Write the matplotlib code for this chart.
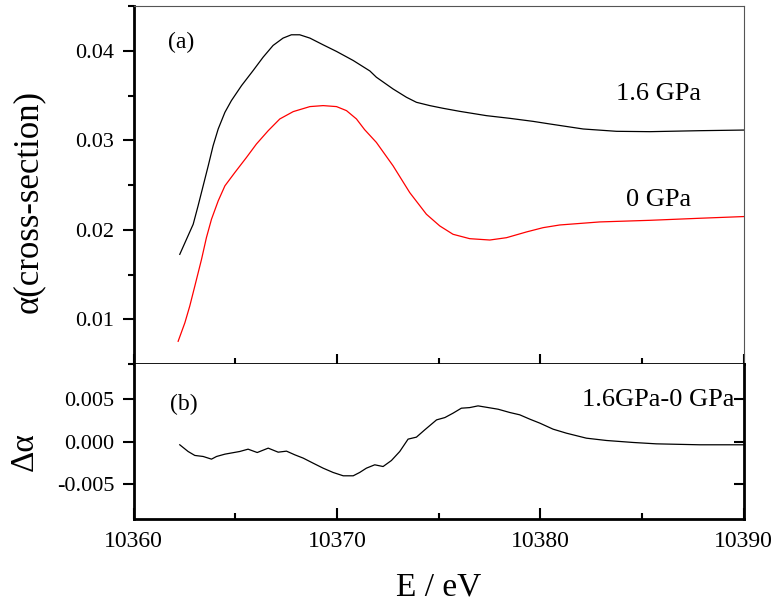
import matplotlib
matplotlib.use("Agg")
import matplotlib.pyplot as plt
from matplotlib.ticker import MultipleLocator, FormatStrFormatter

plt.rcParams['font.family'] = ['Liberation Serif', 'DejaVu Serif']

# 1.6 GPa spectrum
e_hi = [10362.26, 10362.59, 10362.92, 10363.16, 10363.41, 10363.66, 10363.90, 10364.15,
        10364.48, 10364.80, 10365.30, 10365.87, 10366.36, 10366.85, 10367.34, 10367.75,
        10368.16, 10368.66, 10369.31, 10369.97, 10370.79, 10371.61, 10371.93, 10372.75,
        10373.41, 10373.90, 10374.56, 10375.21, 10376.03, 10377.34, 10378.49, 10379.64,
        10380.46, 10382.10, 10383.74, 10385.38, 10387.84, 10390.0]
a_hi = [0.01727, 0.01895, 0.02063, 0.02268, 0.02492, 0.02716, 0.02940, 0.03127,
        0.03313, 0.03444, 0.03612, 0.03780, 0.03929, 0.04060, 0.04142, 0.04179,
        0.04179, 0.04142, 0.04067, 0.03993, 0.03892, 0.03775, 0.03705, 0.03574,
        0.03481, 0.03425, 0.03388, 0.03358, 0.03324, 0.03276, 0.03246, 0.03212,
        0.03183, 0.03127, 0.03101, 0.03097, 0.03108, 0.03115]

# 0 GPa spectrum
e_lo = [10362.18, 10362.51, 10362.75, 10363.0, 10363.33, 10363.57, 10363.82, 10364.15,
        10364.48, 10364.97, 10365.54, 10366.03, 10366.61, 10367.18, 10367.84, 10368.66,
        10369.31, 10369.97, 10370.46, 10370.95, 10371.35, 10371.93, 10372.75, 10373.57,
        10374.39, 10375.05, 10375.70, 10376.52, 10377.51, 10378.33, 10379.31, 10380.13,
        10380.95, 10382.92, 10385.38, 10387.84, 10390.0]
a_lo = [0.00756, 0.00962, 0.01148, 0.01372, 0.01671, 0.01913, 0.02119, 0.02324,
        0.02492, 0.02641, 0.02809, 0.02959, 0.03108, 0.03239, 0.03321, 0.03377,
        0.03388, 0.03377, 0.03332, 0.03239, 0.03120, 0.02977, 0.02716, 0.02417,
        0.02175, 0.02044, 0.01951, 0.01902, 0.01887, 0.01913, 0.01977, 0.02025,
        0.02055, 0.02089, 0.02107, 0.02130, 0.02149]

# difference 1.6GPa-0 GPa
e_d = [10362.26, 10362.67, 10363.0, 10363.41, 10363.82, 10364.07, 10364.48, 10365.21,
       10365.62, 10366.07, 10366.61, 10367.10, 10367.51, 10367.92, 10368.33, 10368.82,
       10369.31, 10369.80, 10370.30, 10370.79, 10371.11, 10371.44, 10371.85, 10372.26,
       10372.67, 10373.08, 10373.49, 10373.90, 10374.31, 10374.89, 10375.30, 10375.70,
       10376.11, 10376.52, 10376.93, 10377.92, 10378.49, 10378.98, 10379.48, 10379.97,
       10380.62, 10381.28, 10382.26, 10383.25, 10384.56, 10385.70, 10387.84, 10390.0]
d_a = [-0.00038, -0.00116, -0.00162, -0.00174, -0.00205, -0.00174, -0.00147, -0.00116,
       -0.00089, -0.00128, -0.00077, -0.00124, -0.00112, -0.00155, -0.00193, -0.00252,
       -0.00310, -0.00360, -0.00399, -0.00399, -0.00360, -0.00310, -0.00271, -0.00291,
       -0.00221, -0.00116, 0.00028, 0.00051, 0.00136, 0.00252, 0.00279, 0.00330,
       0.00388, 0.00395, 0.00415, 0.00376, 0.00338, 0.00311, 0.00260, 0.00214,
       0.00144, 0.00097, 0.00039, 0.00012, -0.00011, -0.00027, -0.00038, -0.00038]

fig = plt.figure(figsize=(7.78, 6.04), dpi=100)
ax1 = fig.add_axes([0.172, 0.397, 0.784, 0.593])
ax2 = fig.add_axes([0.172, 0.141, 0.784, 0.256], sharex=ax1)

ax1.plot(e_hi, a_hi, color='black', lw=0.9)
ax1.plot(e_lo, a_lo, color='red', lw=0.9)
ax2.plot(e_d, d_a, color='black', lw=0.9)

ax1.set_xlim(10360, 10390)
ax1.set_ylim(0.005, 0.045)
ax2.set_ylim(-0.009, 0.009)

ax1.xaxis.set_major_locator(MultipleLocator(10))
ax1.xaxis.set_minor_locator(MultipleLocator(5))
ax1.yaxis.set_major_locator(MultipleLocator(0.01))
ax1.yaxis.set_minor_locator(MultipleLocator(0.005))
ax2.yaxis.set_major_locator(MultipleLocator(0.005))
ax1.yaxis.set_major_formatter(FormatStrFormatter('%.2f'))
ax2.yaxis.set_major_formatter(FormatStrFormatter('%.3f'))

for s in ['top', 'right']:
    ax1.spines[s].set_linewidth(0.8)
    ax1.spines[s].set_color('#555555')
for s in ['left', 'bottom']:
    ax1.spines[s].set_linewidth(2)
for s in ['left', 'bottom', 'right']:
    ax2.spines[s].set_linewidth(2)
ax2.spines['top'].set_visible(False)

ax1.tick_params(axis='y', which='major', direction='out', length=8, width=1.5, labelsize=16, pad=6)
ax1.tick_params(axis='y', which='minor', direction='out', length=4, width=1.5)
ax1.tick_params(axis='x', which='both', direction='in', labelbottom=False, width=1.5)
ax1.tick_params(axis='x', which='major', length=7)
ax1.tick_params(axis='x', which='minor', length=4)

ax2.tick_params(axis='y', which='major', direction='out', length=8, width=1.5, labelsize=16, pad=6)
ax2.tick_params(axis='y', which='minor', length=0)
ax2.tick_params(axis='x', which='major', direction='in', length=8, width=1.5, labelsize=17, pad=9)
ax2.tick_params(axis='x', which='minor', direction='in', length=4, width=1.5)

# inward ticks on the right side of the lower panel
ax2r = ax2.twinx()
ax2r.set_ylim(ax2.get_ylim())
ax2r.yaxis.set_major_locator(MultipleLocator(0.005))
ax2r.tick_params(axis='y', which='major', direction='in', length=7, width=1.5, labelright=False)
for s in ax2r.spines.values():
    s.set_visible(False)

ax1.set_ylabel('α(cross-section)', fontsize=25)
ax1.yaxis.set_label_coords(-0.146, 0.454)
ax2.set_ylabel('Δα', fontsize=24)
ax2.yaxis.set_label_coords(-0.154, 0.432)
ax2.set_xlabel('E / eV', fontsize=24, labelpad=14)

ax1.text(10361.67, 0.04095, '(a)', fontsize=17, ha='left', va='center')
ax1.text(10385.8, 0.0352, '1.6 GPa', fontsize=19, ha='center', va='center')
ax1.text(10385.8, 0.0233, '0 GPa', fontsize=19, ha='center', va='center')
ax2.text(10361.77, 0.00427, '(b)', fontsize=17, ha='left', va='center')
ax2.text(10389.56, 0.00485, '1.6GPa-0 GPa', fontsize=19, ha='right', va='center')

fig.savefig('out.png', dpi=100)
